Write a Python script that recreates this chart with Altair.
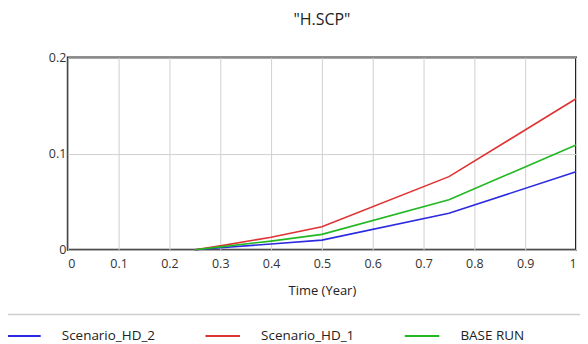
import altair as alt
import pandas as pd

time = [0.25, 0.3, 0.4, 0.5, 0.75, 1.0]
hd2 = [0.0, 0.002, 0.006, 0.010, 0.038, 0.081]
hd1 = [0.0, 0.004, 0.013, 0.024, 0.076, 0.157]
base = [0.0, 0.003, 0.009, 0.016, 0.052, 0.109]
series = ["Scenario_HD_2", "Scenario_HD_1", "BASE RUN"]
colors = ["#2a2ae0", "#e03232", "#22b822"]
x_ticks = [round(i / 10, 1) for i in range(11)]
y_ticks = [0, 0.1, 0.2]

rows = []
for name, vals in zip(series, [hd2, hd1, base]):
    for t, v in zip(time, vals):
        rows.append({"Time": t, "Value": v, "Series": name})
df = pd.DataFrame(rows)

FONT = "Open Sans"

lines = alt.Chart(df).mark_line(strokeWidth=1.6).encode(
    x=alt.X("Time:Q", scale=alt.Scale(domain=[0, 1], nice=False),
            axis=alt.Axis(values=x_ticks, title="Time (Year)", labelFontSize=12.5,
                          labelColor="#333", titleFontSize=13, titleColor="#222",
                          titleFontWeight="normal", titlePadding=14, labelPadding=8,
                          ticks=False, domain=False, gridColor="#d0d0d0",
                          labelFont=FONT, titleFont=FONT,
                          labelExpr="datum.value == 0 ? '0' : datum.value == 1 ? '1' : format(datum.value, '.1f')")),
    y=alt.Y("Value:Q", scale=alt.Scale(domain=[0, 0.2], nice=False),
            axis=alt.Axis(values=y_ticks, title=None, labelFontSize=12.5, labelColor="#333",
                          ticks=False, domain=False, gridColor="#d0d0d0", labelPadding=2,
                          labelFont=FONT,
                          labelExpr="datum.value == 0 ? '0' : format(datum.value, '.1f')")),
    color=alt.Color("Series:N", scale=alt.Scale(domain=series, range=colors),
                    sort=series,
                    legend=alt.Legend(title=None, orient="none", direction="horizontal",
                                      legendX=-63, legendY=261, symbolType="stroke",
                                      symbolSize=1200, symbolStrokeWidth=2,
                                      labelFontSize=13.5, labelFont=FONT, labelColor="#222",
                                      columnPadding=46, symbolOffset=0, labelOffset=20)),
    order=alt.Order("Series:N"),
)

sep = alt.Chart(pd.DataFrame({"a": [0]})).mark_rule(color="#cfcfcf", strokeWidth=1.5).encode(
    x=alt.value(-62), x2=alt.value(514), y=alt.value(258)
)

chart = alt.layer(lines, sep).properties(
    width=510, height=193,
    title=alt.Title('"H.SCP"', fontSize=16, font=FONT, fontWeight="normal", color="#222", offset=24),
    autosize=alt.AutoSizeParams(type="none"),
    padding={"left": 60, "top": 49, "right": 4, "bottom": 94},
).configure_view(stroke="#222", strokeWidth=2)

chart.save("out.html", embed_options={"renderer": "svg", "actions": False})
